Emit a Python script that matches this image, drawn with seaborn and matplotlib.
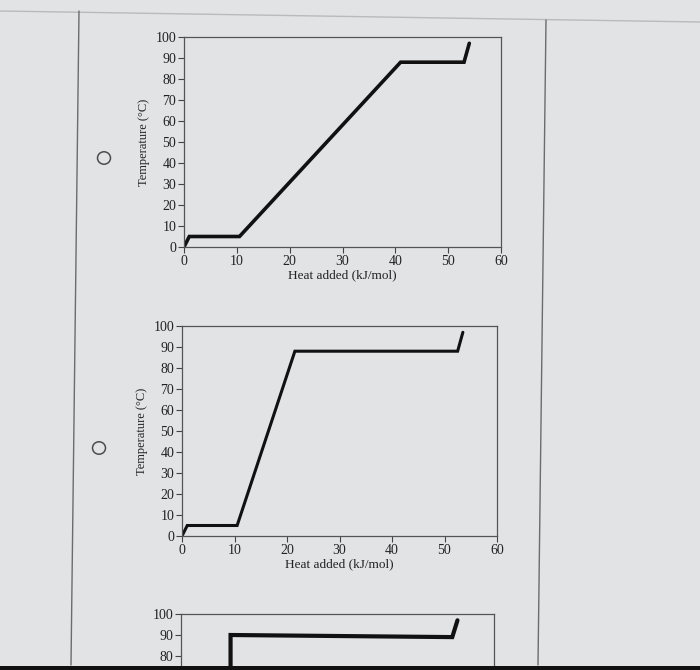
import matplotlib
matplotlib.use("Agg")
import matplotlib.pyplot as plt
import seaborn as sns
import pandas as pd
from matplotlib.lines import Line2D
from matplotlib.patches import Circle, Rectangle

sns.set_theme(style="white")
plt.rcParams['font.family'] = ['Liberation Serif', 'DejaVu Serif']

# Data: heating curves (heat added kJ/mol, temperature °C)
heat_a = [0, 1, 10.5, 41, 53, 54]
temp_a = [0, 5, 5, 88, 88, 97]
heat_b = [0, 1, 10.5, 21.5, 52.5, 53.5]
temp_b = [0, 5, 5, 88, 88, 97]
heat_c = [0, 1, 9.5, 9.5, 52, 53]
temp_c = [0, 5, 5, 90, 89, 97]

y_ticks = [0, 10, 20, 30, 40, 50, 60, 70, 80, 90, 100]
x_ticks = [0, 10, 20, 30, 40, 50, 60]
x_label = "Heat added (kJ/mol)"
y_label = "Temperature (°C)"

BG = "#e1e3e5"
TXT = "#222222"
W, H = 700, 670
fig = plt.figure(figsize=(W / 100, H / 100), dpi=100, facecolor=BG)

def fx(px):
    return px / W

def fy(py):
    return 1 - py / H

# page decorations
fig.add_artist(Line2D([0, 1], [fy(11), fy(22)], transform=fig.transFigure, color="#b8bbbe", lw=1))
fig.add_artist(Line2D([fx(79), fx(71)], [fy(11), fy(665)], transform=fig.transFigure, color="#6a6d70", lw=1))
fig.add_artist(Line2D([fx(546), fx(538)], [fy(20), fy(665)], transform=fig.transFigure, color="#6a6d70", lw=1))
fig.add_artist(Rectangle((0, 0), 1, 4 / H, transform=fig.transFigure, color="#111111", lw=0))

def radio(px, py):
    fig.add_artist(Circle((fx(px), fy(py)), 6.5 / W, transform=fig.transFigure,
                          fill=False, edgecolor="#4a4c4e", lw=1.1))

radio(104, 158)
radio(99, 448)

def make_axes(left, top, right, bottom, xs, ys, lw, full=True):
    ax = fig.add_axes([fx(left), fy(bottom), fx(right) - fx(left), fy(top) - fy(bottom)])
    ax.set_facecolor(BG)
    df = pd.DataFrame({"heat": xs, "temp": ys})
    sns.lineplot(data=df, x="heat", y="temp", ax=ax, color="#111111", lw=lw, sort=False,
                 solid_joinstyle="miter", estimator=None)
    ax.set_xlim(0, 60)
    ax.set_ylim(0, 100)
    ax.set_xticks(x_ticks)
    ax.set_yticks(y_ticks)
    ax.tick_params(axis="both", which="both", direction="out", length=4, width=0.8,
                   color="#444444", pad=1.5, left=True, bottom=True)
    for s in ax.spines.values():
        s.set_color("#555555")
        s.set_linewidth(0.9)
    if full:
        ax.set_xticklabels([str(v) for v in x_ticks], fontsize=10, color=TXT)
        ax.set_yticklabels([str(v) for v in y_ticks], fontsize=10, color=TXT)
        ax.set_xlabel(x_label, fontsize=9.5, color=TXT, labelpad=1)
        ax.set_ylabel(y_label, fontsize=9, color=TXT, labelpad=4)
    else:
        # only the upper part of this panel is inside the page
        ax.set_xticklabels([])
        ax.set_yticklabels([str(v) if v >= 80 else "" for v in y_ticks], fontsize=10, color=TXT)
        ax.set_xlabel("")
        ax.set_ylabel("")
    return ax

make_axes(184, 37, 501, 247, heat_a, temp_a, 2.6)
make_axes(182, 326, 497, 536, heat_b, temp_b, 2.2)
make_axes(181, 614, 494, 824, heat_c, temp_c, 3.0, full=False)

fig.savefig("out.png", dpi=100, facecolor=BG)
